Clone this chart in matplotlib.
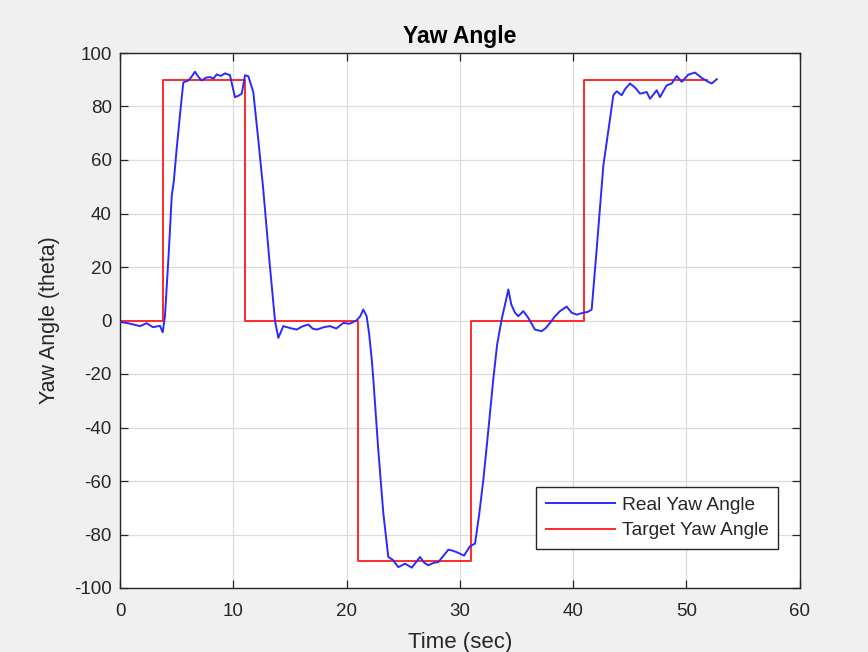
import matplotlib
matplotlib.use("Agg")
import matplotlib.pyplot as plt

plt.rcParams['font.family'] = ['Liberation Sans', 'DejaVu Sans']
plt.rcParams['axes.unicode_minus'] = False

# Measured yaw angle (time in seconds, angle in degrees)
real_time = [0.0, 0.9, 1.77, 2.36, 2.9, 3.53, 3.77, 3.97, 4.3, 4.57, 4.75, 5.0, 5.3,
             5.59, 6.03, 6.3, 6.62, 6.9, 7.21, 7.6, 7.95, 8.25, 8.54, 8.9, 9.27,
             9.71, 10.15, 10.45, 10.75, 11.04, 11.33, 11.77, 12.2, 12.65, 13.2,
             13.69, 13.98, 14.42, 15.0, 15.6, 16.1, 16.63, 17.0, 17.37, 18.0,
             18.54, 19.1, 19.72, 20.3, 20.9, 21.2, 21.48, 21.78, 22.0, 22.23,
             22.37, 22.8, 23.25, 23.69, 24.1, 24.57, 25.17, 25.76, 26.49, 26.85,
             27.22, 27.7, 28.11, 28.55, 28.99, 29.35, 29.73, 30.38, 30.9, 31.35,
             31.7, 32.08, 32.5, 32.96, 33.3, 33.7, 34.0, 34.29, 34.55, 34.88,
             35.17, 35.61, 36.05, 36.64, 37.24, 37.6, 37.97, 38.4, 38.85, 39.44,
             39.88, 40.33, 40.91, 41.3, 41.65, 42.09, 42.68, 43.27, 43.56, 43.86,
             44.3, 44.6, 45.03, 45.5, 45.92, 46.51, 46.8, 47.1, 47.39, 47.68,
             48.27, 48.71, 49.16, 49.6, 50.18, 50.77, 51.36, 51.95, 52.25, 52.69]
real_yaw = [-0.5, -1.2, -2.1, -1.0, -2.5, -2.0, -4.4, 1.6, 25.0, 46.6, 52.0, 64.0, 77.0,
            89.0, 89.7, 91.0, 93.0, 91.2, 89.7, 90.8, 91.0, 90.4, 92.0, 91.4, 92.4,
            91.7, 83.5, 84.0, 84.8, 91.7, 91.3, 85.4, 68.0, 49.0, 22.0,
            -0.2, -6.5, -2.1, -2.8, -3.4, -2.2, -1.5, -3.0, -3.4, -2.5,
            -2.1, -3.0, -0.9, -1.2, 0.1, 1.5, 4.1, 1.6, -5.0, -14.6,
            -22.0, -48.0, -72.0, -88.4, -89.5, -92.2, -90.9, -92.4, -88.4, -90.5,
            -91.5, -90.6, -90.3, -88.0, -85.7, -86.0, -86.6, -87.9, -84.4, -83.4,
            -73.0, -59.7, -42.0, -22.0, -9.0, 0.4, 6.0, 11.6, 6.0, 2.9,
            1.6, 3.5, 1.0, -3.4, -4.0, -2.8, -0.9, 1.5, 3.5, 5.2,
            2.9, 2.2, 2.9, 3.2, 4.1, 26.6, 57.9, 75.4, 84.2, 85.7,
            84.2, 86.5, 88.6, 87.0, 84.8, 85.4, 82.9, 84.5, 86.1, 83.5,
            87.9, 88.6, 91.4, 89.2, 91.9, 92.7, 90.7, 89.2, 88.6, 90.2]

# Commanded yaw set-points (step changes)
target_time = [0.0, 3.8, 3.8, 11.0, 11.0, 21.0, 21.0, 31.0, 31.0, 41.0, 41.0, 51.8]
target_yaw = [0, 0, 90, 90, 0, 0, -90, -90, 0, 0, 90, 90]

x_ticks = [0, 10, 20, 30, 40, 50, 60]
y_ticks = [-100, -80, -60, -40, -20, 0, 20, 40, 60, 80, 100]

W, H = 868, 652
fig = plt.figure(figsize=(W / 100, H / 100), dpi=100, facecolor='#f0f0f0')
ax = fig.add_axes([120 / W, 1 - 588 / H, (799.5 - 120) / W, (588 - 53) / H])
ax.set_facecolor('white')

ax.plot(real_time, real_yaw, color='#2a2aff', lw=1.4, label='Real Yaw Angle', zorder=3)
ax.plot(target_time, target_yaw, color='#ff2a2a', lw=1.4, label='Target Yaw Angle', zorder=2)

ax.set_xlim(0, 60)
ax.set_ylim(-100, 100)
ax.set_xticks(x_ticks)
ax.set_yticks(y_ticks)
ax.grid(True, color='#dcdcdc', lw=0.9)
ax.set_axisbelow(True)

frame = '#262626'
for sp in ax.spines.values():
    sp.set_color(frame)
    sp.set_linewidth(1.0)
ax.tick_params(direction='in', length=5.5, width=0.9, color=frame,
               labelcolor='#262626', labelsize=13.5, top=True, right=True)
ax.tick_params(axis='x', pad=10.5)
ax.tick_params(axis='y', pad=6)

ax.set_title('Yaw Angle', fontsize=16.5, fontweight='bold', color='black', pad=7)
ax.set_xlabel('Time (sec)', fontsize=16, color='#262626')
ax.set_ylabel('Yaw Angle (theta)', fontsize=15.5, color='#262626')
ax.xaxis.set_label_coords(0.5, -0.082)
ax.yaxis.set_label_coords(-0.089, 0.5)

leg = ax.legend(loc='lower right', bbox_to_anchor=(778 / W, 1 - 549 / H),
                bbox_transform=fig.transFigure, fontsize=13.75, frameon=True,
                fancybox=False, edgecolor='#262626', framealpha=1,
                handlelength=3.6, handletextpad=0.37, borderpad=0.5,
                labelspacing=0.42, borderaxespad=0)
leg.get_frame().set_linewidth(1.0)
for t in leg.get_texts():
    t.set_color('#262626')

fig.savefig('out.png', dpi=100, facecolor=fig.get_facecolor())
